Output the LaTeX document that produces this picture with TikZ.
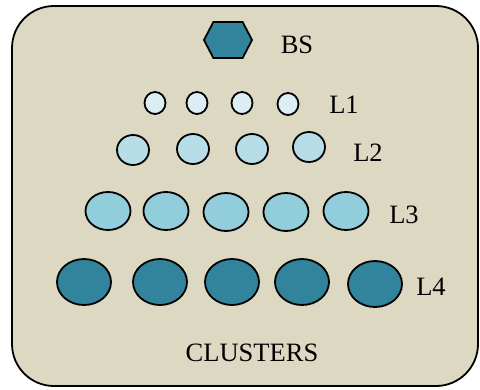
\documentclass[tikz,border=0pt]{standalone}
\usepackage{xcolor}
\usepackage{fontspec}
\setmainfont{Liberation Serif}
\usepackage{tikz}
\usetikzlibrary{positioning,shapes.geometric,shapes.symbols}

\definecolor{sand}{HTML}{DDD8C2}
\definecolor{teal}{HTML}{31849B}
\definecolor{sky}{HTML}{92CDDC}
\definecolor{pale}{HTML}{B7DDE8}
\definecolor{frost}{HTML}{DAEEF3}

\begin{document}
\begin{tikzpicture}[x=1pt, y=-1pt,
		cl/.style={ellipse, draw, line width=1.8pt, inner sep=0pt},
		lbl/.style={font=\fontsize{26.5}{30}\selectfont}]
		\useasboundingbox (0,0) rectangle (480,389);

		\node[draw, fill=sand, rounded corners=42pt, line width=1.8pt, minimum width=466pt, minimum height=380pt] (frame) at (245,196) {};

		\node[signal, signal to=east and west, signal pointer angle=125, draw, fill=teal, line width=1.8pt, minimum width=48pt, minimum height=36pt, inner sep=0pt] (bs) at (228,40) {};
		\node[lbl] (bslbl) at (297,45) {BS};

		\node[cl, fill=frost, minimum width=21pt, minimum height=22pt] (a1) at (155,103) {};
		\node[cl, fill=frost, minimum width=21pt, minimum height=22pt] (a2) at (197,103) {};
		\node[cl, fill=frost, minimum width=21pt, minimum height=22pt] (a3) at (242,103) {};
		\node[cl, fill=frost, minimum width=21pt, minimum height=22pt] (a4) at (288,104) {};
		\node[lbl] (l1) at (344,105) {L1};

		\node[cl, fill=pale, minimum width=32pt, minimum height=30pt] (b1) at (133,150) {};
		\node[cl, fill=pale, minimum width=32pt, minimum height=30pt] (b2) at (193,149) {};
		\node[cl, fill=pale, minimum width=32pt, minimum height=30pt] (b3) at (252,149) {};
		\node[cl, fill=pale, minimum width=32pt, minimum height=30pt] (b4) at (309,147) {};
		\node[lbl] (l2) at (368,153) {L2};

		\node[cl, fill=sky, minimum width=45pt, minimum height=38pt] (c1) at (108,211) {};
		\node[cl, fill=sky, minimum width=45pt, minimum height=38pt] (c2) at (166,211) {};
		\node[cl, fill=sky, minimum width=45pt, minimum height=38pt] (c3) at (226,212) {};
		\node[cl, fill=sky, minimum width=45pt, minimum height=38pt] (c4) at (286,212) {};
		\node[cl, fill=sky, minimum width=45pt, minimum height=38pt] (c5) at (346,211) {};
		\node[lbl] (l3) at (404,215) {L3};

		\node[cl, fill=teal, minimum width=54pt, minimum height=46pt] (d1) at (84,282) {};
		\node[cl, fill=teal, minimum width=54pt, minimum height=46pt] (d2) at (160,282) {};
		\node[cl, fill=teal, minimum width=54pt, minimum height=46pt] (d3) at (232,282) {};
		\node[cl, fill=teal, minimum width=54pt, minimum height=46pt] (d4) at (302,282) {};
		\node[cl, fill=teal, minimum width=54pt, minimum height=46pt] (d5) at (375,284) {};
		\node[lbl] (l4) at (431,287) {L4};

		\node[lbl] (cap) at (252,353) {CLUSTERS};
	\end{tikzpicture}
\end{document}
